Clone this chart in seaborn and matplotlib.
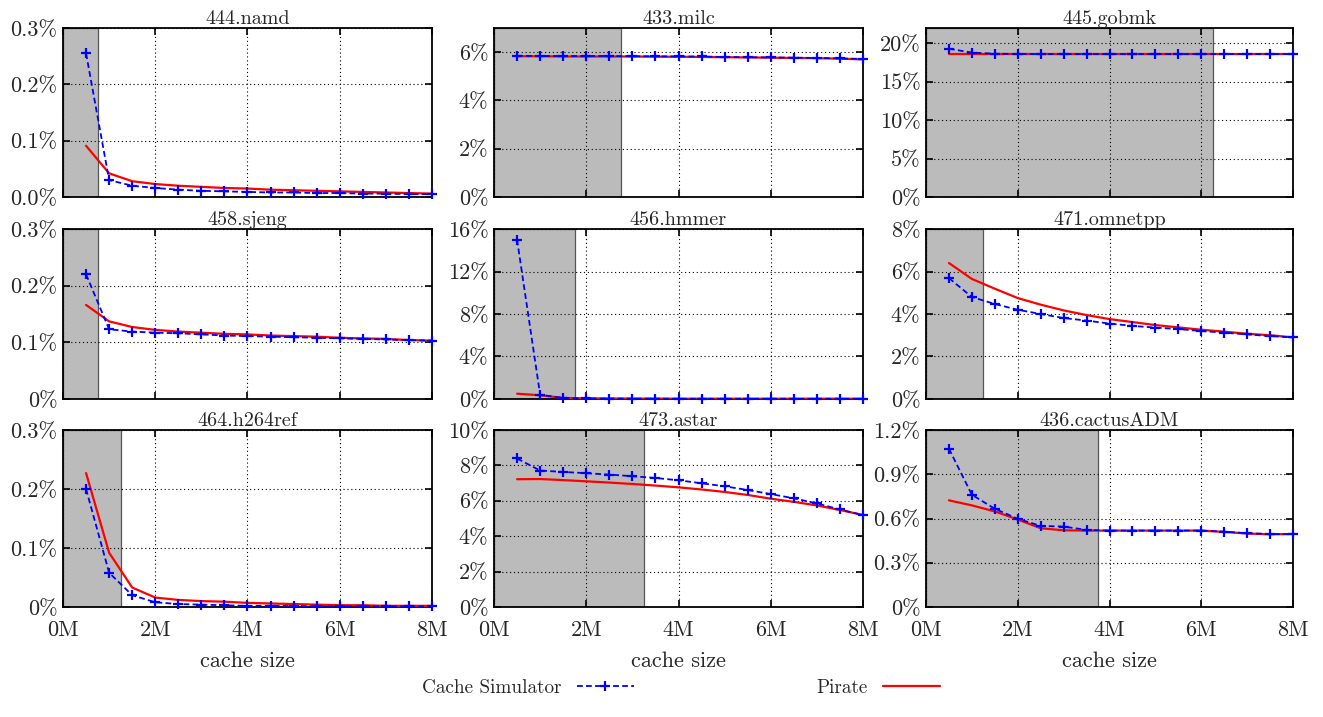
import matplotlib
matplotlib.use("Agg")
import matplotlib.pyplot as plt
import seaborn as sns
import pandas as pd
from matplotlib.lines import Line2D

# ---------------- data ----------------
sizes_mb = [0.5, 1.0, 1.5, 2.0, 2.5, 3.0, 3.5, 4.0, 4.5, 5.0, 5.5, 6.0, 6.5, 7.0, 7.5, 8.0]

benchmarks = ["444.namd", "433.milc", "445.gobmk",
              "458.sjeng", "456.hmmer", "471.omnetpp",
              "464.h264ref", "473.astar", "436.cactusADM"]

shade_limits = [0.75, 2.75, 6.25, 0.75, 1.75, 1.25, 1.25, 3.25, 3.75]
y_max = [0.3, 7.0, 22.0, 0.3, 16.0, 8.0, 0.3, 10.0, 1.2]

y_ticks = [[0, 0.1, 0.2, 0.3], [0, 2, 4, 6], [0, 5, 10, 15, 20],
           [0, 0.1, 0.2, 0.3], [0, 4, 8, 12, 16], [0, 2, 4, 6, 8],
           [0, 0.1, 0.2, 0.3], [0, 2, 4, 6, 8, 10], [0, 0.3, 0.6, 0.9, 1.2]]
y_tick_labels = [["0.0%", "0.1%", "0.2%", "0.3%"], ["0%", "2%", "4%", "6%"],
                 ["0%", "5%", "10%", "15%", "20%"],
                 ["0%", "0.1%", "0.2%", "0.3%"], ["0%", "4%", "8%", "12%", "16%"],
                 ["0%", "2%", "4%", "6%", "8%"],
                 ["0%", "0.1%", "0.2%", "0.3%"], ["0%", "2%", "4%", "6%", "8%", "10%"],
                 ["0%", "0.3%", "0.6%", "0.9%", "1.2%"]]
x_ticks = [0, 2, 4, 6, 8]
x_tick_labels = ["0M", "2M", "4M", "6M", "8M"]

# miss ratios in percent
sim_namd = [0.255, 0.030, 0.020, 0.016, 0.013, 0.011, 0.010, 0.009, 0.008, 0.008, 0.007, 0.007, 0.006, 0.006, 0.005, 0.005]
pir_namd = [0.091, 0.042, 0.028, 0.023, 0.020, 0.018, 0.016, 0.015, 0.013, 0.012, 0.011, 0.010, 0.009, 0.008, 0.007, 0.006]

sim_milc = [5.85, 5.84, 5.84, 5.84, 5.84, 5.83, 5.83, 5.82, 5.82, 5.80, 5.79, 5.78, 5.77, 5.76, 5.74, 5.72]
pir_milc = [5.83, 5.83, 5.82, 5.82, 5.82, 5.82, 5.81, 5.81, 5.80, 5.79, 5.78, 5.77, 5.76, 5.75, 5.73, 5.70]

sim_gobmk = [19.3, 18.8, 18.65, 18.62, 18.6, 18.6, 18.6, 18.6, 18.6, 18.6, 18.6, 18.6, 18.6, 18.6, 18.6, 18.6]
pir_gobmk = [18.6, 18.6, 18.6, 18.6, 18.6, 18.6, 18.6, 18.6, 18.6, 18.6, 18.6, 18.6, 18.6, 18.6, 18.6, 18.6]

sim_sjeng = [0.220, 0.123, 0.119, 0.117, 0.116, 0.114, 0.112, 0.111, 0.110, 0.109, 0.108, 0.107, 0.106, 0.105, 0.104, 0.103]
pir_sjeng = [0.166, 0.137, 0.127, 0.122, 0.119, 0.117, 0.115, 0.114, 0.112, 0.111, 0.110, 0.108, 0.107, 0.106, 0.104, 0.103]

sim_hmmer = [15.0, 0.40, 0.10, 0.05, 0.04, 0.03, 0.03, 0.02, 0.02, 0.02, 0.02, 0.02, 0.02, 0.02, 0.02, 0.02]
pir_hmmer = [0.50, 0.35, 0.10, 0.06, 0.05, 0.04, 0.04, 0.03, 0.03, 0.03, 0.03, 0.03, 0.03, 0.03, 0.03, 0.03]

sim_omnetpp = [5.69, 4.80, 4.47, 4.20, 4.00, 3.81, 3.69, 3.55, 3.44, 3.36, 3.29, 3.20, 3.12, 3.04, 2.96, 2.90]
pir_omnetpp = [6.40, 5.65, 5.19, 4.75, 4.44, 4.17, 3.95, 3.76, 3.62, 3.48, 3.37, 3.26, 3.17, 3.07, 3.00, 2.90]

sim_h264ref = [0.200, 0.058, 0.020, 0.008, 0.005, 0.004, 0.003, 0.002, 0.002, 0.002, 0.001, 0.001, 0.001, 0.001, 0.001, 0.001]
pir_h264ref = [0.227, 0.092, 0.033, 0.016, 0.012, 0.010, 0.009, 0.007, 0.006, 0.005, 0.004, 0.003, 0.003, 0.002, 0.002, 0.002]

sim_astar = [8.39, 7.71, 7.63, 7.56, 7.48, 7.39, 7.29, 7.16, 6.99, 6.82, 6.61, 6.38, 6.14, 5.85, 5.51, 5.19]
pir_astar = [7.22, 7.23, 7.17, 7.10, 7.03, 6.95, 6.86, 6.76, 6.64, 6.50, 6.33, 6.12, 5.94, 5.74, 5.48, 5.20]

sim_cactus = [1.073, 0.761, 0.666, 0.598, 0.550, 0.545, 0.523, 0.518, 0.518, 0.518, 0.518, 0.518, 0.511, 0.500, 0.495, 0.493]
pir_cactus = [0.723, 0.689, 0.648, 0.593, 0.534, 0.520, 0.518, 0.518, 0.518, 0.518, 0.518, 0.518, 0.509, 0.498, 0.493, 0.495]

sim_series = [sim_namd, sim_milc, sim_gobmk, sim_sjeng, sim_hmmer, sim_omnetpp, sim_h264ref, sim_astar, sim_cactus]
pir_series = [pir_namd, pir_milc, pir_gobmk, pir_sjeng, pir_hmmer, pir_omnetpp, pir_h264ref, pir_astar, pir_cactus]

# ---------------- style ----------------
sns.set_style("ticks")
plt.rcParams["font.family"] = ["cmr10", "DejaVu Serif"]
plt.rcParams["mathtext.fontset"] = "cm"
plt.rcParams["axes.formatter.use_mathtext"] = True
plt.rcParams["axes.unicode_minus"] = False

W, H = 1323, 717
fig = plt.figure(figsize=(W / 100, H / 100), dpi=100)

col_px = [(63, 432), (494, 863), (926, 1293)]
row_px = [(28, 197), (229, 399), (430, 607)]

FS_TICK = 16
FS_TITLE = 14.5
FS_LABEL = 16
FS_LEG = 13.8
DASH = (0, (3.2, 1.8))

for i, name in enumerate(benchmarks):
    r, c = divmod(i, 3)
    x0, x1 = col_px[c]
    y0, y1 = row_px[r]
    ax = fig.add_axes([x0 / W, 1 - y1 / H, (x1 - x0) / W, (y1 - y0) / H])

    ax.axvspan(0, shade_limits[i], facecolor="#bbbbbb", edgecolor="#555555",
               linewidth=0.9, zorder=0.5)

    df = pd.DataFrame({"size": sizes_mb, "sim": sim_series[i], "pir": pir_series[i]})
    sns.lineplot(data=df, x="size", y="pir", ax=ax, color="red", linewidth=1.6,
                 zorder=3)
    sns.lineplot(data=df, x="size", y="sim", ax=ax, color="blue", linewidth=1.3,
                 linestyle=DASH, marker="+", markersize=6.5,
                 markeredgecolor="blue", markeredgewidth=1.6, zorder=4,
                 clip_on=False)

    ax.set_xlim(0, 8)
    ax.set_ylim(0, y_max[i])
    ax.set_xticks(x_ticks)
    if r == 2:
        ax.set_xticklabels(x_tick_labels, fontsize=FS_TICK)
        ax.set_xlabel("cache size", fontsize=FS_LABEL, labelpad=8)
    else:
        ax.set_xticklabels([])
        ax.set_xlabel("")
    ax.set_yticks(y_ticks[i])
    ax.set_yticklabels(y_tick_labels[i], fontsize=FS_TICK)
    ax.set_ylabel("")
    ax.set_title(name, fontsize=FS_TITLE, pad=3)

    ax.grid(True, color="black", linestyle=(0, (1, 2.5)), linewidth=0.8)
    ax.tick_params(direction="in", top=True, right=True, length=5, width=1.2,
                   color="black", pad=4)
    ax.tick_params(axis="x", pad=10)
    for s in ax.spines.values():
        s.set_linewidth(1.3)
        s.set_color("black")
        s.set_visible(True)

handles = [Line2D([], [], color="blue", linewidth=1.3, linestyle=DASH,
                  marker="+", markersize=6.5, markeredgewidth=1.6),
           Line2D([], [], color="red", linewidth=1.6)]
fig.legend(handles, ["Cache Simulator", "Pirate"], loc="center",
           bbox_to_anchor=(681 / W, 1 - 688 / H), ncol=2, frameon=False,
           markerfirst=False, handlelength=3.0, columnspacing=9.5,
           handletextpad=0.8, fontsize=FS_LEG, numpoints=1)

fig.savefig("out.png", dpi=100)
